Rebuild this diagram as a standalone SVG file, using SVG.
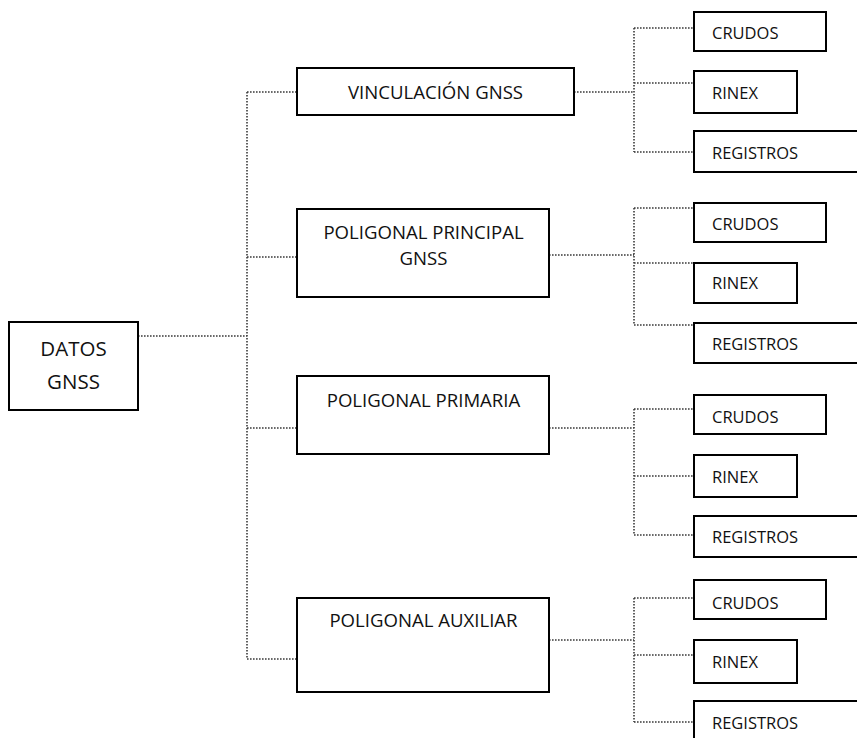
<svg xmlns="http://www.w3.org/2000/svg" width="857" height="738" viewBox="0 0 857 738">
<style>
.box{fill:#fff;stroke:#000;stroke-width:2}
.c{fill:none;stroke:#3a3a3a;stroke-width:1.6;stroke-dasharray:1.6 1.4}
text{font-family:"Open Sans","Noto Sans",sans-serif;fill:#111}
.root{font-size:20.5px;text-anchor:middle}
.mid{font-size:18.6px;text-anchor:middle}
.leaf{font-size:16.5px}
</style>
<rect width="857" height="738" fill="#fff"/>
<g id="connectors">
<path class="c" d="M138 336H247M247 92V659M247 92H297M247 257H297M247 428H297M247 659H297"/>
<path class="c" d="M574 92H634M634 28V152M634 28H694M634 83H694M634 152H694"/>
<path class="c" d="M549 255H634M634 208V325M634 208H694M634 263H694M634 325H694"/>
<path class="c" d="M549 428H634M634 409V535M634 409H694M634 476H694M634 535H694"/>
<path class="c" d="M549 640H634M634 598V722M634 598H694M634 655H694M634 722H694"/>
</g>
<g id="datos"><rect class="box" x="9" y="322" width="129" height="88"/><text class="root" x="73.5" y="356">DATOS</text><text class="root" x="73.5" y="389">GNSS</text></g>
<g id="vinculacion"><rect class="box" x="297" y="68" width="277" height="47"/><text class="mid" x="435.5" y="99">VINCULACIÓN GNSS</text></g>
<g id="principal"><rect class="box" x="297" y="209" width="252" height="88"/><text class="mid" x="423.5" y="239">POLIGONAL PRINCIPAL</text><text class="mid" x="423.5" y="265">GNSS</text></g>
<g id="primaria"><rect class="box" x="297" y="376" width="252" height="78"/><text class="mid" x="423.5" y="407">POLIGONAL PRIMARIA</text></g>
<g id="auxiliar"><rect class="box" x="297" y="598" width="252" height="94"/><text class="mid" x="423.5" y="627">POLIGONAL AUXILIAR</text></g>
<g id="g1-crudos"><rect class="box" x="694" y="12" width="132" height="39"/><text class="leaf" x="712" y="39">CRUDOS</text></g>
<g id="g1-rinex"><rect class="box" x="694" y="71" width="103" height="42"/><text class="leaf" x="712" y="99">RINEX</text></g>
<g id="g1-registros"><rect class="box" x="694" y="131" width="170" height="41"/><text class="leaf" x="712" y="159">REGISTROS</text></g>
<g id="g2-crudos"><rect class="box" x="694" y="203" width="132" height="39"/><text class="leaf" x="712" y="230">CRUDOS</text></g>
<g id="g2-rinex"><rect class="box" x="694" y="263" width="103" height="40"/><text class="leaf" x="712" y="289">RINEX</text></g>
<g id="g2-registros"><rect class="box" x="694" y="323" width="170" height="40"/><text class="leaf" x="712" y="350">REGISTROS</text></g>
<g id="g3-crudos"><rect class="box" x="694" y="395" width="132" height="39"/><text class="leaf" x="712" y="423">CRUDOS</text></g>
<g id="g3-rinex"><rect class="box" x="694" y="455" width="103" height="42"/><text class="leaf" x="712" y="483">RINEX</text></g>
<g id="g3-registros"><rect class="box" x="694" y="516" width="170" height="41"/><text class="leaf" x="712" y="543">REGISTROS</text></g>
<g id="g4-crudos"><rect class="box" x="694" y="580" width="132" height="39"/><text class="leaf" x="712" y="609">CRUDOS</text></g>
<g id="g4-rinex"><rect class="box" x="694" y="640" width="103" height="43"/><text class="leaf" x="712" y="668">RINEX</text></g>
<g id="g4-registros"><rect class="box" x="694" y="701" width="170" height="45"/><text class="leaf" x="712" y="729">REGISTROS</text></g>
</svg>
